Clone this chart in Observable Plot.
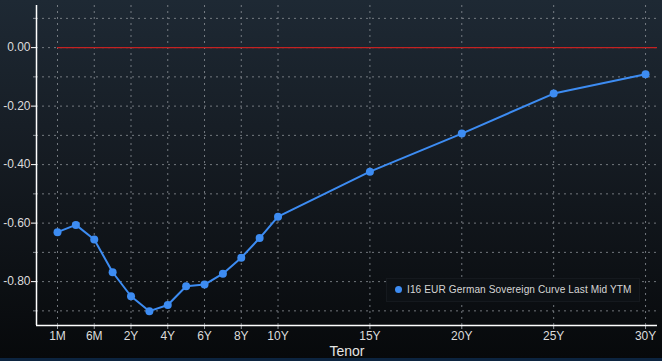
<!DOCTYPE html>
<html>
<head>
<meta charset="utf-8">
<script src="https://cdn.jsdelivr.net/npm/d3@7"></script>
<script src="https://cdn.jsdelivr.net/npm/@observablehq/plot@0.6"></script>
<style>
  html, body { margin: 0; padding: 0; background: #000; }
  #wrap { position: relative; width: 662px; height: 361px; overflow: hidden; font-family: "Liberation Sans", Arial, sans-serif; }
  #strip { position: absolute; left: 0; top: 358px; width: 662px; height: 3px; background: #0c2440; }
  #legend { position: absolute; left: 386px; top: 278px; width: 254px; height: 24px; box-sizing: border-box;
            background: #0d1115; border: 1px solid #15191e; color: #d6d6d6; font-size: 10.1px; line-height: 22px;
            padding-left: 8px; white-space: nowrap; letter-spacing: 0.1px; overflow: hidden; }
  #legend .dot { display: inline-block; width: 7px; height: 7px; border-radius: 50%; background: #3d8cf2; margin-right: 5px; vertical-align: 0px; }
</style>
</head>
<body>
<div id="wrap"></div>
<script>
// Data
const tenors = ["1M","3M","6M","1Y","2Y","3Y","4Y","5Y","6Y","7Y","8Y","9Y","10Y","15Y","20Y","25Y","30Y"];
const positions = [0,1,2,3,4,5,6,7,8,9,10,11,12,17,22,27,32];
const yields = [-0.631,-0.606,-0.656,-0.768,-0.850,-0.901,-0.880,-0.816,-0.810,-0.773,-0.718,-0.651,-0.578,-0.424,-0.294,-0.157,-0.091];
const xTickLabels = ["1M","6M","2Y","4Y","6Y","8Y","10Y","15Y","20Y","25Y","30Y"];
const yMajorTicks = [0, -0.2, -0.4, -0.6, -0.8];
const yMinorTicks = [0.1, -0.1, -0.3, -0.5, -0.7, -0.9];
const seriesName = "I16 EUR German Sovereign Curve Last Mid YTM";

const data = tenors.map((t, i) => ({tenor: t, pos: positions[i], y: yields[i]}));
const xTicks = xTickLabels.map(l => positions[tenors.indexOf(l)]);
const xDomain = [-1.143, 32.65];
const yDomain = [-0.95, 0.144];
const yGrid = [...yMajorTicks, ...yMinorTicks];

const chart = Plot.plot({
  width: 662,
  height: 358,
  marginLeft: 36,
  marginRight: 5,
  marginTop: 5,
  marginBottom: 33,
  style: {
    background: "linear-gradient(#1e2934 0%, #151b22 45%, #07090b 100%)",
    color: "#d8d8d8",
    fontFamily: "Liberation Sans, Arial, sans-serif",
    fontSize: "12px",
    overflow: "visible"
  },
  x: {domain: xDomain},
  y: {domain: yDomain},
  marks: [
    Plot.gridY({ticks: yGrid, stroke: "#8b9096", strokeOpacity: 0.8, strokeDasharray: "2,4"}),
    Plot.gridX({ticks: xTicks, stroke: "#8b9096", strokeOpacity: 0.8, strokeDasharray: "2,4"}),
    Plot.ruleY([0], {x1: positions[0], x2: xDomain[1], stroke: "#c42222", strokeWidth: 1.2}),
    Plot.axisY({ticks: yMinorTicks, tickSize: 3, tickFormat: () => "", stroke: "#8b9096", label: null}),
    Plot.axisY({ticks: yMajorTicks, tickSize: 5, tickPadding: 1, tickFormat: d => d3.format(".2f")(d).replace("−", "-"), stroke: "#ffffff", fill: "#dcdcdc", label: null}),
    Plot.axisX({ticks: xTicks, tickSize: 4, tickPadding: 2, tickFormat: d => tenors[positions.indexOf(d)], stroke: "#9a9fa5", fill: "#dcdcdc",
                label: "Tenor", labelAnchor: "center", labelArrow: "none", labelOffset: 30, fontSize: 12}),
    Plot.ruleX([xDomain[0]], {stroke: "#ffffff", strokeWidth: 1.5}),
    Plot.ruleY([yDomain[0]], {stroke: "#ffffff", strokeWidth: 1.5}),
    Plot.line(data, {x: "pos", y: "y", stroke: "#3d8cf2", strokeWidth: 2}),
    Plot.dot(data, {x: "pos", y: "y", r: 4, fill: "#3d8cf2"})
  ]
});

const wrap = document.getElementById("wrap");
wrap.appendChild(chart);
chart.style.display = "block";
const strip = document.createElement("div");
strip.id = "strip";
wrap.appendChild(strip);
const legend = document.createElement("div");
legend.id = "legend";
legend.innerHTML = '<span class="dot"></span>' + seriesName;
wrap.appendChild(legend);
chart.querySelectorAll("[aria-label='x-axis label'] text").forEach(t => { t.setAttribute("font-size", "14"); t.setAttribute("fill", "#e4e4e4"); });
</script>
</body>
</html>
